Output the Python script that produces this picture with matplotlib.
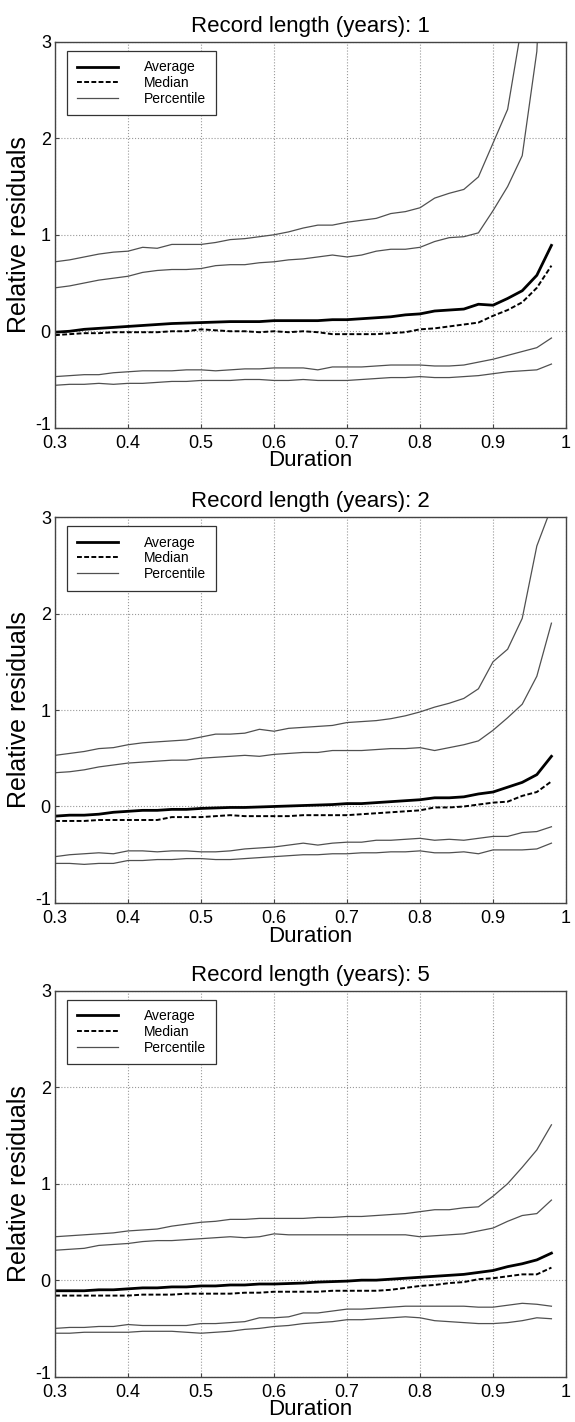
import numpy as np
import matplotlib
matplotlib.use("Agg")
import matplotlib.pyplot as plt
from matplotlib.transforms import ScaledTranslation

plt.rcParams['font.family'] = ['Liberation Sans', 'DejaVu Sans']

# durations 0.30 .. 0.98 step 0.02
duration = [0.30, 0.32, 0.34, 0.36, 0.38, 0.40, 0.42, 0.44, 0.46, 0.48,
            0.50, 0.52, 0.54, 0.56, 0.58, 0.60, 0.62, 0.64, 0.66, 0.68,
            0.70, 0.72, 0.74, 0.76, 0.78, 0.80, 0.82, 0.84, 0.86, 0.88,
            0.90, 0.92, 0.94, 0.96, 0.98]

record_lengths = [1, 2, 5]

# record length 1
p_hi_1 = [0.72, 0.74, 0.77, 0.80, 0.82, 0.83, 0.87, 0.86, 0.90, 0.90, 0.90, 0.92, 0.95, 0.96, 0.98, 1.00, 1.03, 1.07,
          1.10, 1.10, 1.13, 1.15, 1.17, 1.22, 1.24, 1.28, 1.38, 1.43, 1.47, 1.60, 1.95, 2.30, 3.20, 4.50, 6.00]
p_mhi_1 = [0.45, 0.47, 0.50, 0.53, 0.55, 0.57, 0.61, 0.63, 0.64, 0.64, 0.65, 0.68, 0.69, 0.69, 0.71, 0.72, 0.74, 0.75,
           0.77, 0.79, 0.77, 0.79, 0.83, 0.85, 0.85, 0.87, 0.93, 0.97, 0.98, 1.02, 1.25, 1.50, 1.82, 2.90, 6.00]
avg_1 = [-0.01, 0.00, 0.02, 0.03, 0.04, 0.05, 0.06, 0.07, 0.08, 0.085, 0.09, 0.095, 0.10, 0.10, 0.10, 0.11, 0.11, 0.11,
         0.11, 0.12, 0.12, 0.13, 0.14, 0.15, 0.17, 0.18, 0.21, 0.22, 0.23, 0.28, 0.27, 0.34, 0.42, 0.58, 0.89]
med_1 = [-0.04, -0.03, -0.02, -0.02, -0.01, -0.01, -0.01, -0.01, 0.00, 0.00, 0.02, 0.01, 0.00, 0.00, -0.01, 0.00, -0.01,
         0.00, -0.01, -0.03, -0.03, -0.03, -0.03, -0.02, -0.01, 0.02, 0.03, 0.05, 0.07, 0.09, 0.16, 0.22, 0.30, 0.45, 0.68]
p_mlo_1 = [-0.47, -0.46, -0.45, -0.45, -0.43, -0.42, -0.41, -0.41, -0.41, -0.40, -0.40, -0.41, -0.40, -0.39, -0.39,
           -0.38, -0.38, -0.38, -0.40, -0.37, -0.37, -0.37, -0.36, -0.35, -0.35, -0.35, -0.36, -0.36, -0.35, -0.32,
           -0.29, -0.25, -0.21, -0.17, -0.07]
p_lo_1 = [-0.56, -0.55, -0.55, -0.54, -0.55, -0.54, -0.54, -0.53, -0.52, -0.52, -0.51, -0.51, -0.51, -0.50, -0.50,
          -0.51, -0.51, -0.50, -0.51, -0.51, -0.51, -0.50, -0.49, -0.48, -0.48, -0.47, -0.48, -0.48, -0.47, -0.46,
          -0.44, -0.42, -0.41, -0.40, -0.34]

# record length 2
p_hi_2 = [0.53, 0.55, 0.57, 0.60, 0.61, 0.64, 0.66, 0.67, 0.68, 0.69, 0.72, 0.75, 0.75, 0.76, 0.80, 0.78, 0.81, 0.82,
          0.83, 0.84, 0.87, 0.88, 0.89, 0.91, 0.94, 0.98, 1.03, 1.07, 1.12, 1.22, 1.50, 1.63, 1.95, 2.70, 3.10]
p_mhi_2 = [0.35, 0.36, 0.38, 0.41, 0.43, 0.45, 0.46, 0.47, 0.48, 0.48, 0.50, 0.51, 0.52, 0.53, 0.52, 0.54, 0.55, 0.56,
           0.56, 0.58, 0.58, 0.58, 0.59, 0.60, 0.60, 0.61, 0.58, 0.61, 0.64, 0.68, 0.79, 0.92, 1.06, 1.35, 1.90]
avg_2 = [-0.10, -0.09, -0.09, -0.08, -0.06, -0.05, -0.04, -0.04, -0.03, -0.03, -0.02, -0.015, -0.01, -0.01, -0.005,
         0.00, 0.005, 0.01, 0.015, 0.02, 0.03, 0.03, 0.04, 0.05, 0.06, 0.07, 0.09, 0.09, 0.10, 0.13, 0.15, 0.20, 0.25,
         0.33, 0.52]
med_2 = [-0.15, -0.15, -0.15, -0.14, -0.14, -0.14, -0.14, -0.14, -0.11, -0.11, -0.11, -0.10, -0.09, -0.10, -0.10,
         -0.10, -0.10, -0.09, -0.09, -0.09, -0.09, -0.08, -0.07, -0.06, -0.05, -0.04, -0.01, -0.01, 0.00, 0.02, 0.04,
         0.05, 0.11, 0.15, 0.26]
p_mlo_2 = [-0.52, -0.50, -0.49, -0.48, -0.49, -0.46, -0.46, -0.47, -0.46, -0.46, -0.47, -0.47, -0.46, -0.44, -0.43,
           -0.42, -0.40, -0.38, -0.40, -0.38, -0.37, -0.37, -0.35, -0.35, -0.34, -0.33, -0.35, -0.34, -0.35, -0.33,
           -0.31, -0.31, -0.27, -0.26, -0.21]
p_lo_2 = [-0.59, -0.59, -0.60, -0.59, -0.59, -0.56, -0.56, -0.55, -0.55, -0.54, -0.54, -0.55, -0.55, -0.54, -0.53,
          -0.52, -0.51, -0.50, -0.50, -0.49, -0.49, -0.48, -0.48, -0.47, -0.47, -0.46, -0.48, -0.48, -0.47, -0.49,
          -0.45, -0.45, -0.45, -0.44, -0.38]

# record length 5
p_hi_5 = [0.45, 0.46, 0.47, 0.48, 0.49, 0.51, 0.52, 0.53, 0.56, 0.58, 0.60, 0.61, 0.63, 0.63, 0.64, 0.64, 0.64, 0.64,
          0.65, 0.65, 0.66, 0.66, 0.67, 0.68, 0.69, 0.71, 0.73, 0.73, 0.75, 0.76, 0.87, 1.00, 1.17, 1.35, 1.61]
p_mhi_5 = [0.31, 0.32, 0.33, 0.36, 0.37, 0.38, 0.40, 0.41, 0.41, 0.42, 0.43, 0.44, 0.45, 0.44, 0.45, 0.48, 0.47, 0.47,
           0.47, 0.47, 0.47, 0.47, 0.47, 0.47, 0.47, 0.45, 0.46, 0.47, 0.48, 0.51, 0.54, 0.61, 0.67, 0.69, 0.83]
avg_5 = [-0.11, -0.11, -0.11, -0.10, -0.10, -0.09, -0.08, -0.08, -0.07, -0.07, -0.06, -0.06, -0.05, -0.05, -0.04,
         -0.04, -0.035, -0.03, -0.02, -0.015, -0.01, 0.00, 0.00, 0.01, 0.02, 0.03, 0.04, 0.05, 0.06, 0.08, 0.10, 0.14,
         0.17, 0.21, 0.28]
med_5 = [-0.16, -0.16, -0.16, -0.16, -0.16, -0.16, -0.15, -0.15, -0.15, -0.14, -0.14, -0.14, -0.14, -0.13, -0.13,
         -0.12, -0.12, -0.12, -0.12, -0.11, -0.11, -0.11, -0.11, -0.10, -0.08, -0.06, -0.05, -0.03, -0.02, 0.01, 0.02,
         0.04, 0.06, 0.06, 0.13]
p_mlo_5 = [-0.50, -0.49, -0.49, -0.48, -0.48, -0.46, -0.47, -0.47, -0.47, -0.47, -0.45, -0.45, -0.44, -0.43, -0.39,
           -0.39, -0.38, -0.34, -0.34, -0.32, -0.30, -0.30, -0.29, -0.28, -0.27, -0.27, -0.27, -0.27, -0.27, -0.28,
           -0.28, -0.26, -0.24, -0.25, -0.27]
p_lo_5 = [-0.55, -0.55, -0.54, -0.54, -0.54, -0.54, -0.53, -0.53, -0.53, -0.54, -0.55, -0.54, -0.53, -0.51, -0.50,
          -0.48, -0.47, -0.45, -0.44, -0.43, -0.41, -0.41, -0.40, -0.39, -0.38, -0.39, -0.42, -0.43, -0.44, -0.45,
          -0.45, -0.44, -0.42, -0.39, -0.40]

panels = [
    (p_hi_1, p_mhi_1, avg_1, med_1, p_mlo_1, p_lo_1),
    (p_hi_2, p_mhi_2, avg_2, med_2, p_mlo_2, p_lo_2),
    (p_hi_5, p_mhi_5, avg_5, med_5, p_mlo_5, p_lo_5),
]

fig = plt.figure(figsize=(5.75, 14.22), dpi=100)
bottoms = [0.6992, 0.365, 0.0319]
grey = '#505050'

for n, bottom, (hi, mhi, avg, med, mlo, lo) in zip(record_lengths, bottoms, panels):
    ax = fig.add_axes([0.0957, bottom, 0.8887, 0.2714])
    ax.plot(duration, avg, color='black', lw=2.0, label='Average')
    ax.plot(duration, med, color='black', lw=1.4, ls=(0, (2.5, 1.2)), label='Median')
    ax.plot(duration, hi, color=grey, lw=0.9, label='Percentile')
    ax.plot(duration, mhi, color=grey, lw=0.9)
    ax.plot(duration, mlo, color=grey, lw=0.9)
    ax.plot(duration, lo, color=grey, lw=0.9)

    ax.set_xlim(0.3, 1.0)
    ax.set_ylim(-1, 3)
    ax.set_xticks([0.3, 0.4, 0.5, 0.6, 0.7, 0.8, 0.9, 1.0])
    ax.set_xticklabels(['0.3', '0.4', '0.5', '0.6', '0.7', '0.8', '0.9', '1'])
    ax.set_yticks([-1, 0, 1, 2, 3])
    ax.set_yticklabels(['-1', '0', '1', '2', '3'])
    ax.tick_params(direction='in', length=3, labelsize=13, color='#444444')
    ax.tick_params(axis='x', pad=5)
    ax.tick_params(axis='y', pad=3)
    # nudge the "-1" label up a little so it clears the "0.3" below it
    lab = ax.get_yticklabels()[0]
    lab.set_transform(lab.get_transform() + ScaledTranslation(0, 3 / 72, fig.dpi_scale_trans))
    ax.grid(True, color='#999999', ls=':', lw=0.8)
    for sp in ax.spines.values():
        sp.set_color('#444444')
        sp.set_linewidth(1.0)

    ax.set_title('Record length (years): %d' % n, fontsize=16, pad=7)
    ax.set_xlabel('Duration', fontsize=16, labelpad=-1)
    ax.set_ylabel('Relative residuals', fontsize=18, labelpad=3)

    leg = ax.legend(loc='upper left', bbox_to_anchor=(0.0235, 0.977), borderaxespad=0,
                    fontsize=10, handlelength=2.95, handletextpad=1.9, labelspacing=0.12,
                    fancybox=False, framealpha=1, edgecolor='#333333', borderpad=0.7)
    leg.get_frame().set_linewidth(0.9)

fig.savefig('out.png', dpi=100)
